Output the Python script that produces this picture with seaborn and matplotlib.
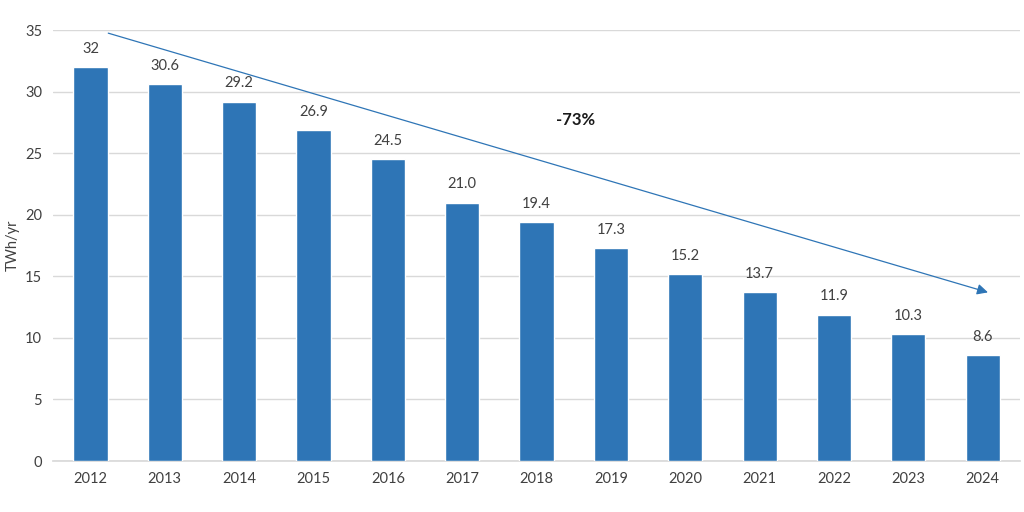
import matplotlib
matplotlib.use("Agg")
import matplotlib.pyplot as plt
import seaborn as sns
import pandas as pd

years = ["2012", "2013", "2014", "2015", "2016", "2017", "2018",
         "2019", "2020", "2021", "2022", "2023", "2024"]
twh = [32, 30.6, 29.2, 26.9, 24.5, 21.0, 19.4, 17.3, 15.2, 13.7, 11.9, 10.3, 8.6]
value_labels = ["32", "30.6", "29.2", "26.9", "24.5", "21.0", "19.4",
                "17.3", "15.2", "13.7", "11.9", "10.3", "8.6"]
change_label = "-73%"

sns.set_theme(style="white")
plt.rcParams['font.family'] = ['Lato', 'DejaVu Sans']

text_col = "#404040"
bar_col = "#2E75B6"

df = pd.DataFrame({"year": years, "twh": twh})

fig = plt.figure(figsize=(10.24, 5.12), dpi=100)
ax = fig.add_axes([0.052, 0.0996, 0.944, 0.8414])

sns.barplot(data=df, x="year", y="twh", color=bar_col, width=0.46,
            saturation=1, ax=ax, zorder=3)

# value labels above bars
ax.bar_label(ax.containers[0], labels=value_labels, padding=8,
             fontsize=10.5, color=text_col)

ax.set_ylim(0, 35)
ax.set_xlim(-0.5, 12.5)
ax.set_yticks(range(0, 36, 5))
ax.grid(axis="y", color="#d9d9d9", linewidth=1, zorder=0)
for s in ["top", "right", "left"]:
    ax.spines[s].set_visible(False)
ax.spines["bottom"].set_color("#d9d9d9")
ax.tick_params(axis="both", length=0, labelsize=10.5, colors=text_col, pad=8)
ax.set_xlabel("")
ax.set_ylabel("TWh/yr", fontsize=10.5, color=text_col, labelpad=4)

# trend arrow
ax.annotate("", xy=(12.07, 13.7), xytext=(0.24, 34.76),
            arrowprops=dict(arrowstyle="-|>", color="#2E75B6", lw=0.9,
                            mutation_scale=16, shrinkA=0, shrinkB=0),
            zorder=4)
ax.text(6.52, 27.7, change_label, fontsize=12, fontweight="bold",
        color="#1a1a1a", ha="center", va="center")

fig.savefig("out.png", dpi=100)
